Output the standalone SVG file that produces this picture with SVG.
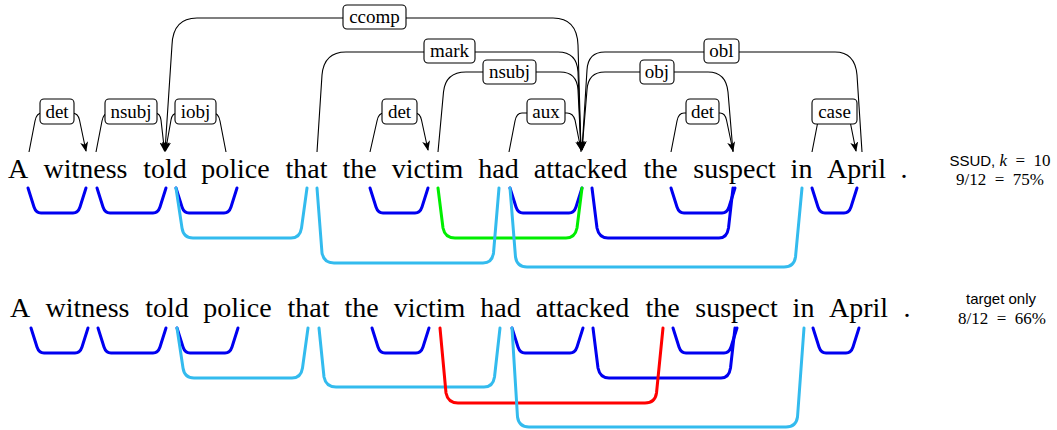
<svg xmlns="http://www.w3.org/2000/svg" width="1057" height="430" viewBox="0 0 1057 430">
<style>
.w{font-family:"Liberation Serif","Times New Roman",serif;font-size:28px;fill:#000;text-anchor:middle}
.arc{fill:none;stroke:#000;stroke-width:1.1}
.lbr{fill:#fff;stroke:#000;stroke-width:1.1}
.lbt{font-family:"Liberation Serif","Times New Roman",serif;font-size:19px;text-anchor:middle;fill:#000}
.br{fill:none;stroke-width:3;stroke-linecap:round;stroke-linejoin:round}
.db{stroke:#0000F0}
.lbl{stroke:#33BBEE}
.gr{stroke:#00EE00}
.rd{stroke:#FF0000}
.sans{font-family:"Liberation Sans",Arial,sans-serif;font-size:15px}
.ser{font-family:"Liberation Serif","Times New Roman",serif;font-size:17px}
</style>
<defs>
<marker id="ah" markerUnits="userSpaceOnUse" markerWidth="11" markerHeight="8" refX="9" refY="4" orient="auto">
<path d="M0,0 L10,4 L0,8 L2.5,4 z" fill="#000"/>
</marker>
</defs>
<rect width="1057" height="430" fill="#fff"/>

<g id="connectors">
<path class="arc" marker-end="url(#ah)" d="M29 152 L35 121 Q36.5 113 42 113 L72 113 Q78 113 79.5 120 L86 151"/>
<path class="arc" marker-end="url(#ah)" d="M96 152 L102 121 Q103.5 113 109 113 L155 113 Q160 113 161 120 L164.5 151"/>
<path class="arc" marker-end="url(#ah)" d="M226 152 L220 121 Q218.5 113 213 113 L178 113 Q172 113 171 120 L165.5 151"/>
<path class="arc" marker-end="url(#ah)" d="M370 152 L377 121 Q378.5 113 384 113 L415 113 Q420 113 421.5 120 L428 150"/>
<path class="arc" marker-end="url(#ah)" d="M509 152 L515 121 Q516.5 113 522 113 L567 113 Q573 113 575 120 L581 150"/>
<path class="arc" marker-end="url(#ah)" d="M671 152 L677 121 Q678.5 113 684 113 L720 113 Q725 113 726.5 120 L733 151"/>
<path class="arc" marker-end="url(#ah)" d="M812 152 L818 121 Q819.5 113 825 113 L843 113 Q848.5 113 850 121 L856 151"/>
<path class="arc" marker-end="url(#ah)" d="M438 152 L443.5 92 Q445.5 72 466 72 L560 72 Q577 72 578 90 L581 150"/>
<path class="arc" marker-end="url(#ah)" d="M733 152 L728 92 Q726 72 708 72 L605 72 Q588 72 587 90 L582 150"/>
<path class="arc" marker-end="url(#ah)" d="M317 152 L322 75 Q324 52 346 52 L558 52 Q577 52 578 72 L581 150"/>
<path class="arc" marker-end="url(#ah)" d="M862 152 L857 75 Q855 52 835 52 L605 52 Q588 52 587 70 L582 150"/>
<path class="arc" marker-end="url(#ah)" d="M581 152 L578 45 Q577 18 553 18 L197 18 Q173 18 172 45 L165 151"/>

<path class="br db" d="M28 188 L34 207 Q36 213 41 213 L73 213 Q78 213 80 207 L86 188"/>
<path class="br db" d="M97 188 L103 207 Q105 213 110 213 L153 213 Q158 213 160 207 L166 188"/>
<path class="br db" d="M176 188 L182 207 Q184 213 189 213 L224 213 Q229 213 231 207 L237 188"/>
<path class="br db" d="M370 188 L376 207 Q378 213 383 213 L415 213 Q420 213 422 207 L428 188"/>
<path class="br db" d="M510 188 L516 207 Q518 213 523 213 L569 213 Q574 213 576 207 L582 188"/>
<path class="br db" d="M671 188 L677 207 Q679 213 684 213 L722 213 Q727 213 729 207 L735 188"/>
<path class="br db" d="M812 188 L818 207 Q820 213 825 213 L844 213 Q849 213 851 207 L857 188"/>
<path class="br db" d="M592 188 L597 228 Q599 238 608 238 L719 238 Q727 238 728.5 228 L733 188"/>
<path class="br lbl" d="M176 188 L182 228 Q183.5 238 193 238 L291 238 Q300 238 301.5 228 L307 188"/>
<path class="br gr" d="M438 188 L443 228 Q445 238 455 238 L566 238 Q575 238 577 228 L582 188"/>
<path class="br lbl" d="M317 188 L322 253 Q324 263 334 263 L483 263 Q492 263 493.5 253 L499 188"/>
<path class="br lbl" d="M510 188 L515.5 257 Q517 267 527 267 L784 267 Q794 267 795.5 257 L802 188"/>

<path class="br db" d="M31 328 L37 347 Q39 353 44 353 L75 353 Q80 353 82 347 L88 328"/>
<path class="br db" d="M98 328 L104 347 Q106 353 111 353 L153 353 Q158 353 160 347 L166 328"/>
<path class="br db" d="M177 328 L183 347 Q185 353 190 353 L225 353 Q230 353 232 347 L238 328"/>
<path class="br db" d="M372 328 L378 347 Q380 353 385 353 L416 353 Q421 353 423 347 L429 328"/>
<path class="br db" d="M512 328 L518 347 Q520 353 525 353 L570 353 Q575 353 577 347 L583 328"/>
<path class="br db" d="M673 328 L679 347 Q681 353 686 353 L724 353 Q729 353 731 347 L737 328"/>
<path class="br db" d="M813 328 L819 347 Q821 353 826 353 L846 353 Q851 353 853 347 L859 328"/>
<path class="br db" d="M593 328 L598 368 Q600 378 609 378 L721 378 Q729 378 730.5 368 L735 328"/>
<path class="br lbl" d="M177 328 L183 368 Q184.5 378 194 378 L292 378 Q301 378 302.5 368 L308 328"/>
<path class="br lbl" d="M319 328 L324 377 Q326 387 336 387 L484 387 Q493 387 494.5 377 L500 328"/>
<path class="br rd" d="M440 328 L446 393 Q448 403 458 403 L645 403 Q655 403 656.5 393 L663 328"/>
<path class="br lbl" d="M512 328 L517.5 417 Q519 427 529 427 L786 427 Q796 427 797.5 417 L804 328"/>
</g>

<g id="labels">
<g id="lab-det1"><rect class="lbr" x="40" y="99" width="34" height="25" rx="4"/><text class="lbt" x="57" y="117.5" font-family="Liberation Serif, serif" font-size="19">det</text></g>
<g id="lab-nsubj1"><rect class="lbr" x="105" y="99" width="52" height="25" rx="4"/><text class="lbt" x="131" y="117.5" font-family="Liberation Serif, serif" font-size="19">nsubj</text></g>
<g id="lab-iobj"><rect class="lbr" x="175" y="99" width="41" height="25" rx="4"/><text class="lbt" x="195.5" y="117.5" font-family="Liberation Serif, serif" font-size="19">iobj</text></g>
<g id="lab-det2"><rect class="lbr" x="382" y="99" width="35" height="25" rx="4"/><text class="lbt" x="399.5" y="117.5" font-family="Liberation Serif, serif" font-size="19">det</text></g>
<g id="lab-aux"><rect class="lbr" x="527" y="99" width="38" height="25" rx="4"/><text class="lbt" x="546" y="117.5" font-family="Liberation Serif, serif" font-size="19">aux</text></g>
<g id="lab-det3"><rect class="lbr" x="686" y="99" width="33" height="25" rx="4"/><text class="lbt" x="702.5" y="117.5" font-family="Liberation Serif, serif" font-size="19">det</text></g>
<g id="lab-case"><rect class="lbr" x="812" y="99" width="45" height="25" rx="4"/><text class="lbt" x="834.5" y="117.5" font-family="Liberation Serif, serif" font-size="19">case</text></g>
<g id="lab-nsubj2"><rect class="lbr" x="483" y="60" width="53" height="24" rx="4"/><text class="lbt" x="509.5" y="78" font-family="Liberation Serif, serif" font-size="19">nsubj</text></g>
<g id="lab-obj"><rect class="lbr" x="640" y="60" width="34" height="24" rx="4"/><text class="lbt" x="657" y="78" font-family="Liberation Serif, serif" font-size="19">obj</text></g>
<g id="lab-mark"><rect class="lbr" x="424" y="39" width="51" height="24" rx="4"/><text class="lbt" x="449.5" y="57" font-family="Liberation Serif, serif" font-size="19">mark</text></g>
<g id="lab-obl"><rect class="lbr" x="704" y="39" width="35" height="24" rx="4"/><text class="lbt" x="721.5" y="57" font-family="Liberation Serif, serif" font-size="19">obl</text></g>
<g id="lab-ccomp"><rect class="lbr" x="343" y="5" width="63" height="24" rx="4"/><text class="lbt" x="374.5" y="23" font-family="Liberation Serif, serif" font-size="19">ccomp</text></g>
</g>

<g id="row1">
<g id="r1-A"><text class="w" x="18" y="178">A</text></g>
<g id="r1-witness"><text class="w" x="85.5" y="178">witness</text></g>
<g id="r1-told"><text class="w" x="165" y="178">told</text></g>
<g id="r1-police"><text class="w" x="235.5" y="178">police</text></g>
<g id="r1-that"><text class="w" x="306.5" y="178">that</text></g>
<g id="r1-the1"><text class="w" x="359.5" y="178">the</text></g>
<g id="r1-victim"><text class="w" x="427.5" y="178">victim</text></g>
<g id="r1-had"><text class="w" x="498.5" y="178">had</text></g>
<g id="r1-attacked"><text class="w" x="580.5" y="178">attacked</text></g>
<g id="r1-the2"><text class="w" x="660.5" y="178">the</text></g>
<g id="r1-suspect"><text class="w" x="734.5" y="178">suspect</text></g>
<g id="r1-in"><text class="w" x="801.5" y="178">in</text></g>
<g id="r1-April"><text class="w" x="856.5" y="178">April</text></g>
<g id="r1-dot"><text class="w" x="904" y="178">.</text></g>
</g>

<g id="row2">
<g id="r2-A"><text class="w" x="20" y="317">A</text></g>
<g id="r2-witness"><text class="w" x="87.5" y="317">witness</text></g>
<g id="r2-told"><text class="w" x="167" y="317">told</text></g>
<g id="r2-police"><text class="w" x="237.5" y="317">police</text></g>
<g id="r2-that"><text class="w" x="308.5" y="317">that</text></g>
<g id="r2-the1"><text class="w" x="361.5" y="317">the</text></g>
<g id="r2-victim"><text class="w" x="429.5" y="317">victim</text></g>
<g id="r2-had"><text class="w" x="500.5" y="317">had</text></g>
<g id="r2-attacked"><text class="w" x="582.5" y="317">attacked</text></g>
<g id="r2-the2"><text class="w" x="662.5" y="317">the</text></g>
<g id="r2-suspect"><text class="w" x="736.5" y="317">suspect</text></g>
<g id="r2-in"><text class="w" x="803.5" y="317">in</text></g>
<g id="r2-April"><text class="w" x="858.5" y="317">April</text></g>
<g id="r2-dot"><text class="w" x="907" y="317">.</text></g>
</g>

<g id="score1">
<text x="1000" y="166" text-anchor="middle" xml:space="preserve"><tspan class="sans">SSUD,</tspan><tspan class="ser" font-style="italic"> k</tspan><tspan class="ser">  =  10</tspan></text>
<text class="ser" x="1000" y="185" text-anchor="middle" xml:space="preserve">9/12  =  75%</text>
</g>
<g id="score2">
<text class="sans" x="1001" y="304" text-anchor="middle">target only</text>
<text class="ser" x="1002" y="324" text-anchor="middle" xml:space="preserve">8/12  =  66%</text>
</g>
</svg>
